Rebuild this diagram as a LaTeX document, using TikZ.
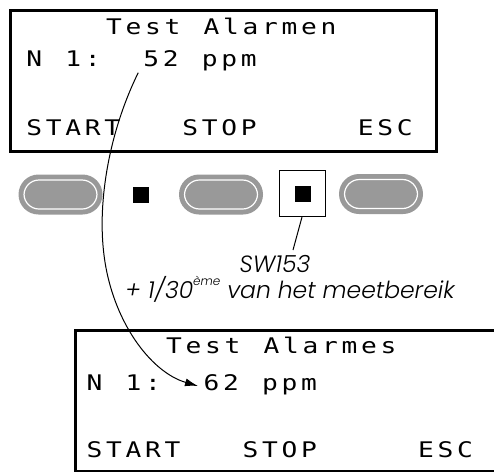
\documentclass[tikz,border=0pt]{standalone}
\usepackage{fontspec}
\usetikzlibrary{arrows.meta}
\newfontfamily\lcdfont{DejaVu Sans Mono}[FakeStretch=1.22]
\newfontfamily\notefont{Poppins Light}[ItalicFont={Poppins Light Italic}]
\newlength\lcdpitch \setlength\lcdpitch{19.5pt}
\makeatletter
\def\lcd#1{\lcd@i#1\relax}
\def\lcd@i#1{\ifx#1\relax\else\makebox[\lcdpitch]{#1}\expandafter\lcd@i\fi}
\makeatother
\definecolor{btngray}{RGB}{153,153,153}
\tikzset{
  lcdtext/.style={inner sep=0pt, anchor=base west, font=\lcdfont\fontsize{21.5}{24}\selectfont},
  screen/.style={draw, line width=3pt, inner sep=0pt, anchor=north west},
  pill/.style={fill=btngray, minimum width=84pt, minimum height=40pt, rounded corners=20pt, inner sep=0pt,
    path picture={\draw[white, line width=1.2pt, rounded corners=15pt]
      ([shift={(5.5pt,-5.5pt)}]path picture bounding box.north west) rectangle
      ([shift={(-5.5pt,5.5pt)}]path picture bounding box.south east);}},
  led/.style={fill=black, minimum size=16pt, inner sep=0pt},
  note/.style={inner sep=0pt, anchor=base, font=\notefont\itshape\fontsize{23.5}{26}\selectfont},
  thin/.style={line width=1pt}
}
\begin{document}
\begin{tikzpicture}[x=1pt,y=-1pt]
\clip (0,0) rectangle (494,471);
\fill[white] (0,0) rectangle (494,471);
% top screen
\node[screen, minimum width=426pt, minimum height=141pt] (scr1) at (8.7,8.7) {};
\node[lcdtext] (t1) at (26,34) {\lcd{~~~~Test~Alarmen}};
\node[lcdtext] (n1) at (24.25,66) {\lcd{N~1:~~}};
\node[lcdtext] (v1) at (141.25,66) {\lcd{52~ppm}};
\node[lcdtext] (k1) at (24.25,135) {\lcd{START~~~STOP~~~~~ESC}};
% buttons
\node[pill] (b1) at (60.5,194.5) {};
\node[led] (led1) at (141,195) {};
\node[pill] (b2) at (221,194.5) {};
\node[draw, thin, minimum size=46pt, inner sep=0pt] (swbox) at (302,193.5) {};
\node[led] (led2) at (302.5,194) {};
\node[pill] (b3) at (381,194) {};
% labels
\node[note] (sw) at (275,272) {SW153};
\node[note] (desc) at (290,298) {+ 1/30\raisebox{0.55em}{\fontsize{12}{13}\selectfont ème} van het meetbereik};
\coordinate (lead) at (293,250);
\draw[thin] (swbox.south) -- (lead);
% bottom screen
\node[screen, minimum width=440pt, minimum height=141pt] (scr2) at (74,328.5) {};
\node[lcdtext] (t2) at (86,353.5) {\lcd{~~~~Test~Alarmes}};
\node[lcdtext] (n2) at (84.5,390) {\lcd{N~1:~~}};
\node[lcdtext] (v2) at (201.5,390) {\lcd{62~ppm}};
\node[lcdtext] (k2) at (84.5,457) {\lcd{START~~~STOP~~~~~ESC}};
% curve
\draw[thin, -{Latex[length=13pt,width=8pt]}]
  ([shift={(-3,2)}]v1.south west) .. controls (110,130) and (97,200) .. (104,255)
  .. controls (112,320) and (150,372) .. ([shift={(-3.5,-4)}]v2.base west);
\end{tikzpicture}
\end{document}
